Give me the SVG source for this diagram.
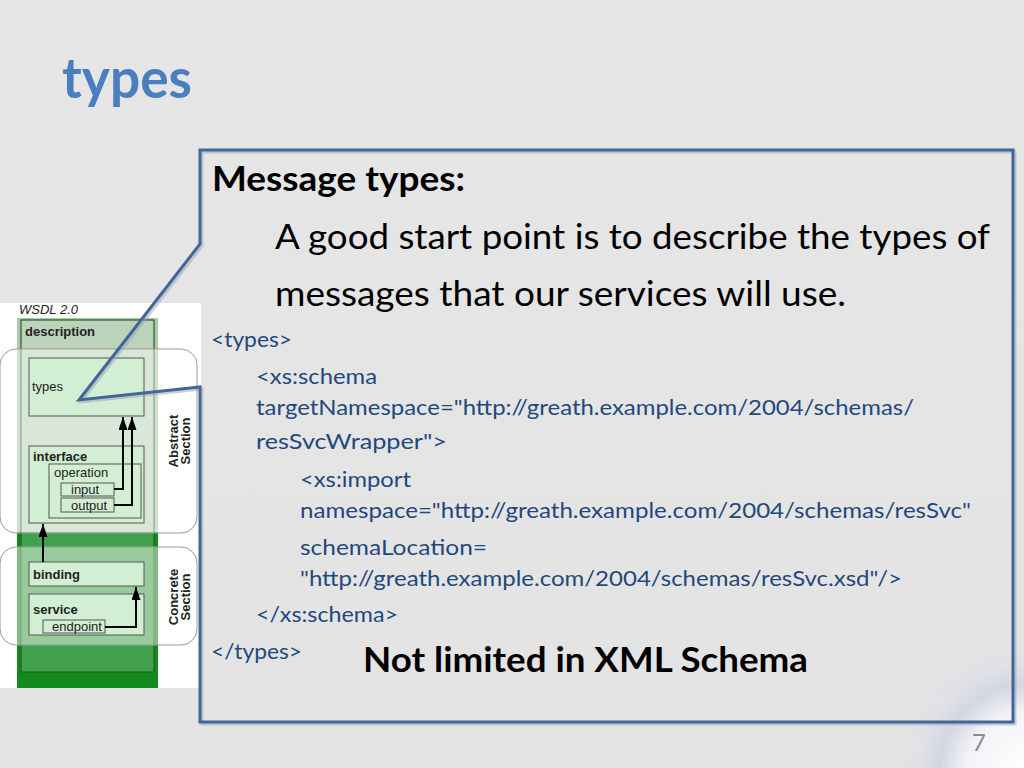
<svg xmlns="http://www.w3.org/2000/svg" width="1024" height="768" viewBox="0 0 1024 768">
<defs>
<linearGradient id="bg" x1="0" y1="0" x2="0" y2="1">
<stop offset="0" stop-color="#e6e6e6"/>
<stop offset="1" stop-color="#e3e3e3"/>
</linearGradient>
<radialGradient id="swirl" cx="1030" cy="775" r="140" gradientUnits="userSpaceOnUse">
<stop offset="0" stop-color="#ffffff"/>
<stop offset="0.45" stop-color="#f3f4f7"/>
<stop offset="0.65" stop-color="#d3d7e2"/>
<stop offset="0.8" stop-color="#dfe1e7"/>
<stop offset="1" stop-color="#e4e4e4" stop-opacity="0"/>
</radialGradient>
<marker id="ah" viewBox="0 0 13 9" refX="13" refY="4.5" markerWidth="13" markerHeight="9" markerUnits="userSpaceOnUse" orient="auto">
<path d="M0,0 L13,4.5 L0,9 Z" fill="#000"/>
</marker>
<style>
.box{fill:#d3efd3;stroke:#555;stroke-width:1}
.lbl{font-family:"Liberation Sans",Arial,sans-serif;font-size:13px;fill:#222}
.b{font-weight:bold}
.sec{fill:#ffffff;fill-opacity:0.45;stroke:#9a9a9a;stroke-width:1}
.arr{fill:none;stroke:#000;stroke-width:2}
.big{font-family:Lato,"Open Sans",sans-serif;font-size:34px;fill:#000}
.code{font-family:Lato,"Open Sans",sans-serif;font-size:20.5px;fill:#1f497d}
</style>
</defs>
<rect x="0" y="0" width="1024" height="768" fill="url(#bg)"/>
<circle cx="1030" cy="775" r="140" fill="url(#swirl)"/>

<text id="title" x="62" y="98" font-family="Lato,'Open Sans',sans-serif" font-weight="bold" font-size="56" fill="#4a7ebe" textLength="130" lengthAdjust="spacingAndGlyphs">types</text>

<g id="wsdl-figure">
<rect x="0" y="303" width="201" height="385" fill="#ffffff"/>
<rect x="17" y="318" width="141" height="370" fill="#138a1e"/>
<rect x="17" y="318" width="141" height="214" fill="#aac8aa"/>
<rect x="21" y="320" width="133" height="352" fill="#ffffff" fill-opacity="0.2" stroke="#2b5a2b" stroke-width="1.2"/>
<text class="lbl" x="19" y="314" font-style="italic" font-size="12">WSDL 2.0</text>
<text class="lbl b" x="25" y="336" font-size="12.5">description</text>
<rect class="sec" x="0" y="349" width="197" height="184" rx="16"/>
<rect class="sec" x="0" y="547" width="197" height="98" rx="16"/>
<text class="lbl b" transform="translate(177.5,441) rotate(-90)" text-anchor="middle">Abstract</text>
<text class="lbl b" transform="translate(190,441) rotate(-90)" text-anchor="middle">Section</text>
<text class="lbl b" transform="translate(177.5,597) rotate(-90)" text-anchor="middle">Concrete</text>
<text class="lbl b" transform="translate(190,597) rotate(-90)" text-anchor="middle">Section</text>
<g id="types-box"><rect class="box" x="29" y="358" width="115" height="58"/><text class="lbl" x="32" y="391">types</text></g>
<g id="interface"><rect class="box" x="29" y="446" width="115" height="77"/><text class="lbl b" x="33" y="461">interface</text></g>
<g id="operation"><rect class="box" x="49" y="464" width="92" height="54"/><text class="lbl" x="54" y="477">operation</text></g>
<g id="input"><rect class="box" x="61" y="483" width="53" height="13"/><text class="lbl" x="71" y="494">input</text></g>
<g id="output"><rect class="box" x="61" y="498" width="53" height="14"/><text class="lbl" x="71" y="510">output</text></g>
<g id="binding"><rect class="box" x="29" y="562" width="115" height="24"/><text class="lbl b" x="33" y="579">binding</text></g>
<g id="service"><rect class="box" x="29" y="594" width="115" height="41"/><text class="lbl b" x="33" y="614">service</text></g>
<g id="endpoint"><rect class="box" x="43" y="620" width="62" height="13"/><text class="lbl" x="52" y="631">endpoint</text></g>
<g id="figure-connectors">
<path class="arr" d="M114,489 H123 V417" marker-end="url(#ah)"/>
<path class="arr" d="M114,505 H132 V417" marker-end="url(#ah)"/>
<path class="arr" d="M43,562 V524" marker-end="url(#ah)"/>
<path class="arr" d="M105,627 H136 V587" marker-end="url(#ah)"/>
</g>
</g>

<g id="callout">
<path d="M202,152 H1015 V724 H202 V389 L81,402 L202,246 Z" fill="none" stroke="#9aa3ae" stroke-opacity="0.5" stroke-width="3"/>
<path d="M200,150 H1013 V722 H200 V387 L79,400 L200,244 Z" fill="none" stroke="#41669a" stroke-width="3" stroke-linejoin="miter"/>
</g>

<g id="callout-text">
<text class="big" x="212" y="191" font-weight="bold" textLength="253" lengthAdjust="spacingAndGlyphs">Message types:</text>
<text class="big" x="275" y="249" textLength="715" lengthAdjust="spacingAndGlyphs">A good start point is to describe the types of</text>
<text class="big" x="275" y="306" textLength="571" lengthAdjust="spacingAndGlyphs">messages that our services will use.</text>
<text class="code" x="211" y="347" textLength="81" lengthAdjust="spacingAndGlyphs">&lt;types&gt;</text>
<text class="code" x="256" y="384" textLength="121" lengthAdjust="spacingAndGlyphs">&lt;xs:schema</text>
<text class="code" x="256" y="415" textLength="658" lengthAdjust="spacingAndGlyphs">targetNamespace="http://greath.example.com/2004/schemas/</text>
<text class="code" x="256" y="449" textLength="191" lengthAdjust="spacingAndGlyphs">resSvcWrapper"&gt;</text>
<text class="code" x="300" y="487" textLength="111" lengthAdjust="spacingAndGlyphs">&lt;xs:import</text>
<text class="code" x="300" y="518" textLength="671" lengthAdjust="spacingAndGlyphs">namespace="http://greath.example.com/2004/schemas/resSvc"</text>
<text class="code" x="300" y="555" textLength="187" lengthAdjust="spacingAndGlyphs">schemaLocation=</text>
<text class="code" x="300" y="586" textLength="602" lengthAdjust="spacingAndGlyphs">"http://greath.example.com/2004/schemas/resSvc.xsd"/&gt;</text>
<text class="code" x="256" y="622" textLength="142" lengthAdjust="spacingAndGlyphs">&lt;/xs:schema&gt;</text>
<text class="code" x="211" y="659" textLength="91" lengthAdjust="spacingAndGlyphs">&lt;/types&gt;</text>
<text class="big" x="363" y="672" font-weight="bold" textLength="445" lengthAdjust="spacingAndGlyphs">Not limited in XML Schema</text>
</g>

<text id="page-number" x="972" y="751" font-family="Lato,'Open Sans',sans-serif" font-size="24" fill="#8a8a8a">7</text>
</svg>
